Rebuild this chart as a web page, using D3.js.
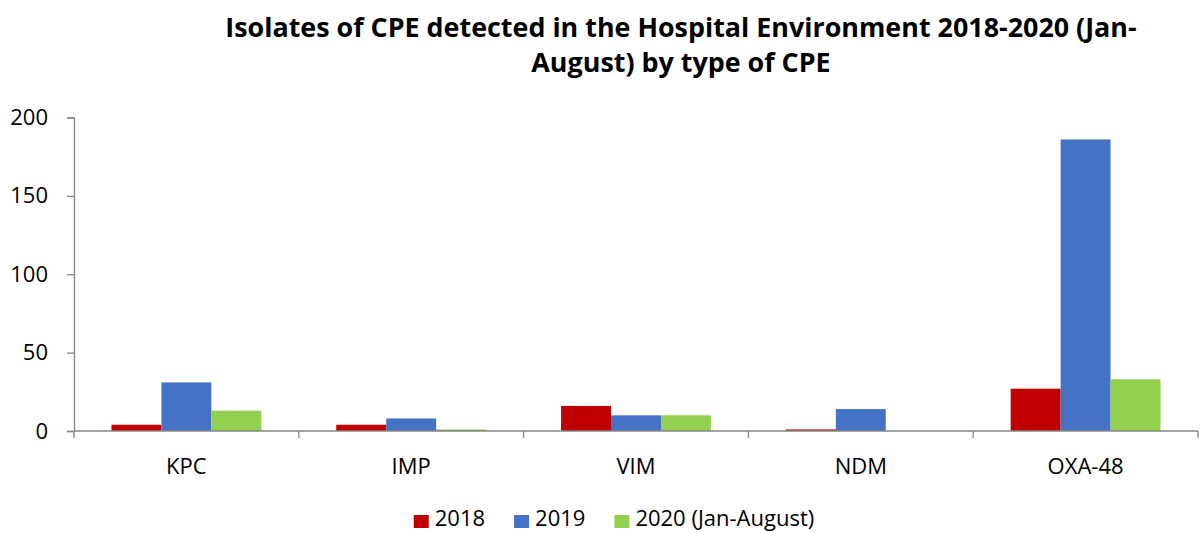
<!DOCTYPE html>
<html>
<head>
<meta charset="utf-8">
<script src="https://cdn.jsdelivr.net/npm/d3@7"></script>
<style>
  body { margin: 0; background: #fff; }
  svg { display: block; font-family: "Open Sans", sans-serif; }
</style>
</head>
<body>
<div id="chart"></div>
<script>
// Data
var categories = ["KPC", "IMP", "VIM", "NDM", "OXA-48"];
var seriesNames = ["2018", "2019", "2020 (Jan-August)"];
var values2018 = [4, 4, 16, 1, 27];
var values2019 = [31, 8, 10, 14, 186];
var values2020 = [13, 1, 10, 0, 33];
var yTicks = [0, 50, 100, 150, 200];
var colors = ["#c00000", "#4472c4", "#92d050"];

var seriesValues = [values2018, values2019, values2020];

var svgWidth = 1201, svgHeight = 533;
var margin = { top: 117.5, left: 74, right: 3, bottom: 102 };
var width = svgWidth - margin.left - margin.right,
    height = svgHeight - margin.top - margin.bottom;

var svg = d3.select("#chart").append("svg")
    .attr("width", svgWidth)
    .attr("height", svgHeight);

// Title, two lines, sized to fit the reference width
var titleLines = ["Isolates of CPE detected in the Hospital Environment 2018-2020 (Jan-", "August) by type of CPE"];
var title = svg.append("g").attr("class", "title");
var titleSize = 26;
title.selectAll("text")
    .data(titleLines)
    .enter().append("text")
    .attr("x", 681)
    .attr("y", (d, i) => 37 + i * 35)
    .attr("text-anchor", "middle")
    .style("font-weight", "bold")
    .style("font-size", titleSize + "px")
    .attr("fill", "#000")
    .text(d => d);
var firstLen = title.select("text").node().getComputedTextLength();
titleSize = titleSize * 912 / firstLen;
title.selectAll("text").style("font-size", titleSize + "px");

var g = svg.append("g")
    .attr("transform", "translate(" + margin.left + "," + margin.top + ")");

// Scales
var x = d3.scaleBand()
    .domain(categories)
    .range([0, width])
    .padding(0);

var xInner = d3.scaleBand()
    .domain(seriesNames)
    .range([0, x.bandwidth()])
    .paddingInner(0)
    .paddingOuter(0.75);

var y = d3.scaleLinear()
    .domain([0, 200])
    .range([height, 0]);

var color = d3.scaleOrdinal()
    .domain(seriesNames)
    .range(colors);

// Bars
var groups = g.selectAll(".group")
    .data(categories)
    .enter().append("g")
    .attr("class", "group")
    .attr("transform", d => "translate(" + x(d) + ",0)");

groups.selectAll("rect")
    .data((d, ci) => seriesNames.map((s, si) => ({ series: s, value: seriesValues[si][ci] })))
    .enter().append("rect")
    .attr("x", d => xInner(d.series))
    .attr("y", d => y(d.value))
    .attr("width", xInner.bandwidth())
    .attr("height", d => height - y(d.value))
    .attr("fill", d => color(d.series));

// Y axis
var yAxis = d3.axisLeft(y)
    .tickValues(yTicks)
    .tickSize(7)
    .tickPadding(19);

var yG = g.append("g").call(yAxis);
yG.select(".domain").attr("stroke", "#868686").attr("stroke-width", 1.3);
yG.selectAll(".tick line").attr("stroke", "#868686").attr("stroke-width", 1.3);
yG.selectAll(".tick text")
    .attr("fill", "#000")
    .style("font-size", "22px")
    .style("font-family", "Open Sans, sans-serif");

// X axis: ticks at category boundaries
var xG = g.append("g").attr("transform", "translate(0," + height + ")");
xG.append("line")
    .attr("x1", 0).attr("x2", width)
    .attr("stroke", "#868686").attr("stroke-width", 1.3);
var boundaries = categories.map(c => x(c)).concat([width]);
xG.selectAll(".btick")
    .data(boundaries)
    .enter().append("line")
    .attr("class", "btick")
    .attr("x1", d => d).attr("x2", d => d)
    .attr("y1", 0).attr("y2", 7)
    .attr("stroke", "#868686").attr("stroke-width", 1.3);
xG.selectAll(".xlabel")
    .data(categories)
    .enter().append("text")
    .attr("class", "xlabel")
    .attr("x", d => x(d) + x.bandwidth() / 2)
    .attr("y", 43)
    .attr("text-anchor", "middle")
    .style("font-size", "22px")
    .attr("fill", "#000")
    .text(d => d);

// Legend
var legend = svg.append("g").attr("class", "legend");
var items = legend.selectAll(".item")
    .data(seriesNames)
    .enter().append("g")
    .attr("class", "item");
items.append("rect")
    .attr("width", 15).attr("height", 13)
    .attr("y", -11)
    .attr("fill", d => color(d));
items.append("text")
    .attr("x", 21)
    .attr("y", 0)
    .style("font-size", "22px")
    .attr("fill", "#000")
    .text(d => d);

var gap = 29;
var offsets = [], pos = 0;
items.each(function () {
    offsets.push(pos);
    pos += 21 + this.querySelector("text").getComputedTextLength() + gap;
});
var total = pos - gap;
var startX = 614 - total / 2;
items.attr("transform", (d, i) => "translate(" + (startX + offsets[i]) + ",526)");
</script>
</body>
</html>
